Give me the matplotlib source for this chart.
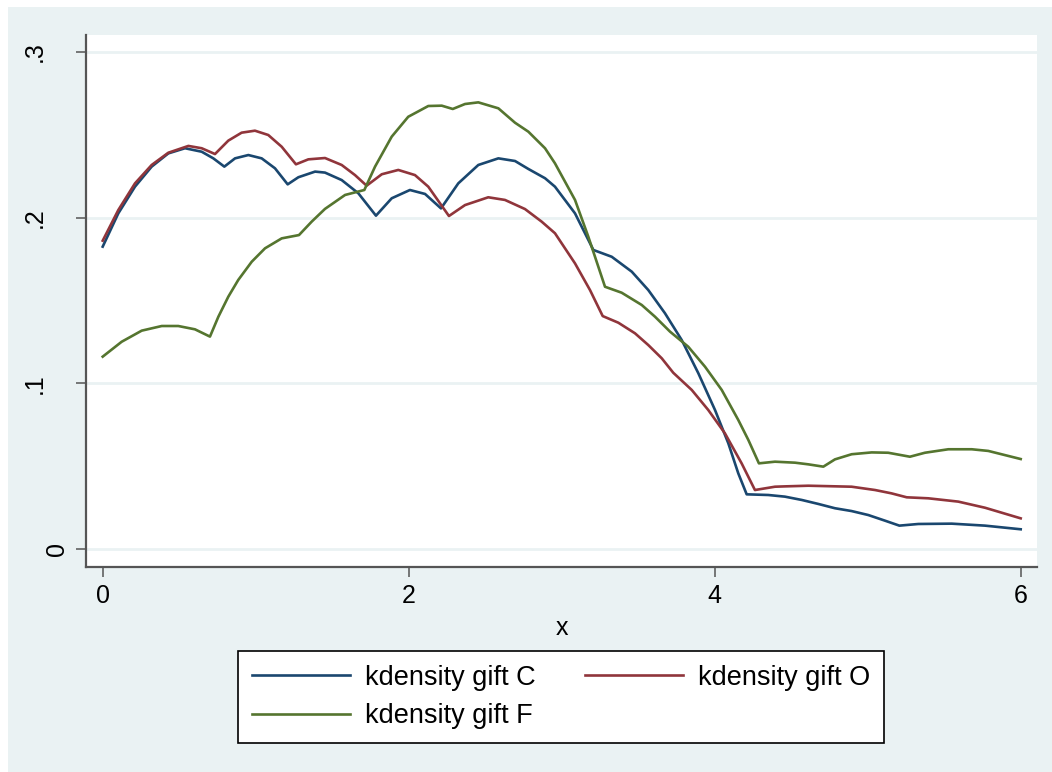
import matplotlib
matplotlib.use("Agg")
import matplotlib.pyplot as plt
from matplotlib.patches import Rectangle

plt.rcParams['font.family'] = ['Liberation Sans', 'DejaVu Sans']

# ---- data ----
c_x = [0.0, 0.102, 0.211, 0.32, 0.429, 0.538, 0.647, 0.723, 0.795, 0.865, 0.952, 1.039, 1.126, 1.209,
       1.279, 1.388, 1.453, 1.562, 1.671, 1.786, 1.889, 2.008, 2.107, 2.211, 2.324, 2.455, 2.586,
       2.695, 2.782, 2.891, 2.956, 3.087, 3.207, 3.327, 3.458, 3.566, 3.675, 3.784, 3.893, 4.002,
       4.089, 4.154, 4.209, 4.350, 4.459, 4.569, 4.677, 4.786, 4.895, 5.004, 5.113, 5.207, 5.331,
       5.549, 5.767, 6.0]
c_y = [0.1825, 0.2026, 0.2187, 0.2308, 0.2388, 0.2419, 0.2398, 0.2358, 0.2308, 0.2358, 0.2378, 0.2358,
       0.2298, 0.2201, 0.2244, 0.2278, 0.2272, 0.2227, 0.2147, 0.2012, 0.2117, 0.2167, 0.2143, 0.2056,
       0.2207, 0.2318, 0.2358, 0.2342, 0.2294, 0.2238, 0.2187, 0.2026, 0.1805, 0.1764, 0.1674, 0.1563,
       0.1423, 0.1262, 0.1061, 0.0839, 0.0638, 0.0457, 0.0330, 0.0326, 0.0316, 0.0296, 0.0272, 0.0246,
       0.0229, 0.0205, 0.0171, 0.0141, 0.0151, 0.0153, 0.0141, 0.0119]

o_x = [0.0, 0.102, 0.211, 0.32, 0.429, 0.56, 0.647, 0.734, 0.821, 0.908, 0.995, 1.082, 1.170, 1.263,
       1.344, 1.453, 1.562, 1.649, 1.725, 1.824, 1.932, 2.041, 2.128, 2.263, 2.368, 2.520, 2.629,
       2.760, 2.869, 2.956, 3.087, 3.185, 3.268, 3.370, 3.479, 3.566, 3.654, 3.729, 3.850, 3.958,
       4.067, 4.176, 4.263, 4.394, 4.459, 4.612, 4.895, 5.048, 5.155, 5.255, 5.396, 5.592, 5.767, 6.0]
o_y = [0.1861, 0.2046, 0.2207, 0.2318, 0.2392, 0.2433, 0.2419, 0.2384, 0.2465, 0.2513, 0.2525, 0.2499,
       0.2428, 0.2322, 0.2352, 0.2360, 0.2318, 0.2257, 0.2193, 0.2262, 0.2288, 0.2257, 0.2187, 0.2010,
       0.2076, 0.2123, 0.2107, 0.2052, 0.1976, 0.1906, 0.1724, 0.1563, 0.1406, 0.1366, 0.1302, 0.1231,
       0.1151, 0.1064, 0.0960, 0.0839, 0.0698, 0.0517, 0.0356, 0.0376, 0.0378, 0.0382, 0.0376, 0.0356,
       0.0336, 0.0312, 0.0306, 0.0286, 0.0249, 0.0185]

f_x = [0.0, 0.124, 0.255, 0.386, 0.494, 0.603, 0.701, 0.756, 0.821, 0.886, 0.974, 1.061, 1.170, 1.283,
       1.366, 1.453, 1.584, 1.710, 1.780, 1.889, 1.997, 2.128, 2.216, 2.288, 2.368, 2.455, 2.586,
       2.695, 2.782, 2.891, 2.956, 3.087, 3.174, 3.283, 3.392, 3.523, 3.610, 3.708, 3.827, 3.937,
       4.046, 4.154, 4.220, 4.289, 4.394, 4.525, 4.612, 4.710, 4.786, 4.895, 5.026, 5.134, 5.276,
       5.374, 5.527, 5.680, 5.788, 6.0]
f_y = [0.1161, 0.1251, 0.1318, 0.1346, 0.1346, 0.1326, 0.1282, 0.1402, 0.1523, 0.1624, 0.1734, 0.1815,
       0.1875, 0.1895, 0.1976, 0.2053, 0.2137, 0.2167, 0.2308, 0.2489, 0.2609, 0.2674, 0.2676, 0.2656,
       0.2686, 0.2696, 0.2660, 0.2573, 0.2519, 0.2419, 0.2328, 0.2107, 0.1885, 0.1583, 0.1547, 0.1473,
       0.1402, 0.1312, 0.1221, 0.1100, 0.0960, 0.0779, 0.0658, 0.0517, 0.0527, 0.0521, 0.0511, 0.0497,
       0.0541, 0.0572, 0.0583, 0.0581, 0.0557, 0.0581, 0.0602, 0.0602, 0.0592, 0.0543]

series_labels = ["kdensity gift C", "kdensity gift O", "kdensity gift F"]
xticks = [0, 2, 4, 6]
yticks = [0, 0.1, 0.2, 0.3]
ytick_labels = ["0", ".1", ".2", ".3"]
x_label = "x"

# ---- style ----
BG = '#EAF2F3'
NAVY = '#1A476F'
MAROON = '#90353B'
GREEN = '#55752F'
AX_COL = '#555555'

W, H = 1052, 772
fig = plt.figure(figsize=(W / 100, H / 100), dpi=100)
fig.patch.set_facecolor(BG)
# thin white margin at top and left, as in the reference
fig.patches.append(Rectangle((0, 1 - 7 / H), 1, 7 / H, transform=fig.transFigure,
                             facecolor='white', edgecolor='none', zorder=-5))
fig.patches.append(Rectangle((0, 0), 8 / W, 1, transform=fig.transFigure,
                             facecolor='white', edgecolor='none', zorder=-5))

ax = fig.add_axes([86 / W, 1 - 567 / H, (1037 - 86) / W, (567 - 35) / H])
ax.set_facecolor('white')

# axis ranges from pixel geometry
x0px, sx = 102.7, 153.0
y0px, sy = 549.0, 1656.7
ax.set_xlim((86 - x0px) / sx, (1037 - x0px) / sx)
ax.set_ylim(-(567 - y0px) / sy, (y0px - 35) / sy)

for yv in yticks:
    ax.axhline(yv, color=BG, lw=2.0, zorder=1)

ax.plot(c_x, c_y, color=NAVY, lw=1.9, zorder=3, label=series_labels[0], solid_joinstyle='round')
ax.plot(o_x, o_y, color=MAROON, lw=1.9, zorder=3, label=series_labels[1], solid_joinstyle='round')
ax.plot(f_x, f_y, color=GREEN, lw=1.9, zorder=3, label=series_labels[2], solid_joinstyle='round')

for s in ['top', 'right']:
    ax.spines[s].set_visible(False)
for s in ['left', 'bottom']:
    ax.spines[s].set_color(AX_COL)
    ax.spines[s].set_linewidth(1.6)

ax.set_xticks(xticks)
ax.set_xticklabels([str(v) for v in xticks])
ax.set_yticks(yticks)
ax.set_yticklabels(ytick_labels, rotation=90, va='center')
ax.tick_params(axis='both', direction='out', length=7.5, width=1.1, color=AX_COL,
               labelsize=18, labelcolor='black')
ax.tick_params(axis='x', pad=4.5)
ax.tick_params(axis='y', pad=21)
ax.yaxis.get_major_ticks()[0].set_pad(5)

ax.set_xlabel(x_label, fontsize=18, labelpad=6)

handles, labels = ax.get_legend_handles_labels()
order = [0, 2, 1]
leg = fig.legend([handles[i] for i in order], [labels[i] for i in order], ncol=2,
                 loc='center', bbox_to_anchor=(561 / W, 1 - 697 / H),
                 fontsize=19.5, frameon=True, fancybox=False, framealpha=1, handlelength=3.65,
                 handletextpad=0.55, columnspacing=1.8, labelspacing=0.45,
                 borderpad=0.5)
leg.get_frame().set_edgecolor('black')
leg.get_frame().set_linewidth(1.2)
leg.get_frame().set_facecolor('white')

fig.savefig('out.png', dpi=100, facecolor=fig.get_facecolor())
